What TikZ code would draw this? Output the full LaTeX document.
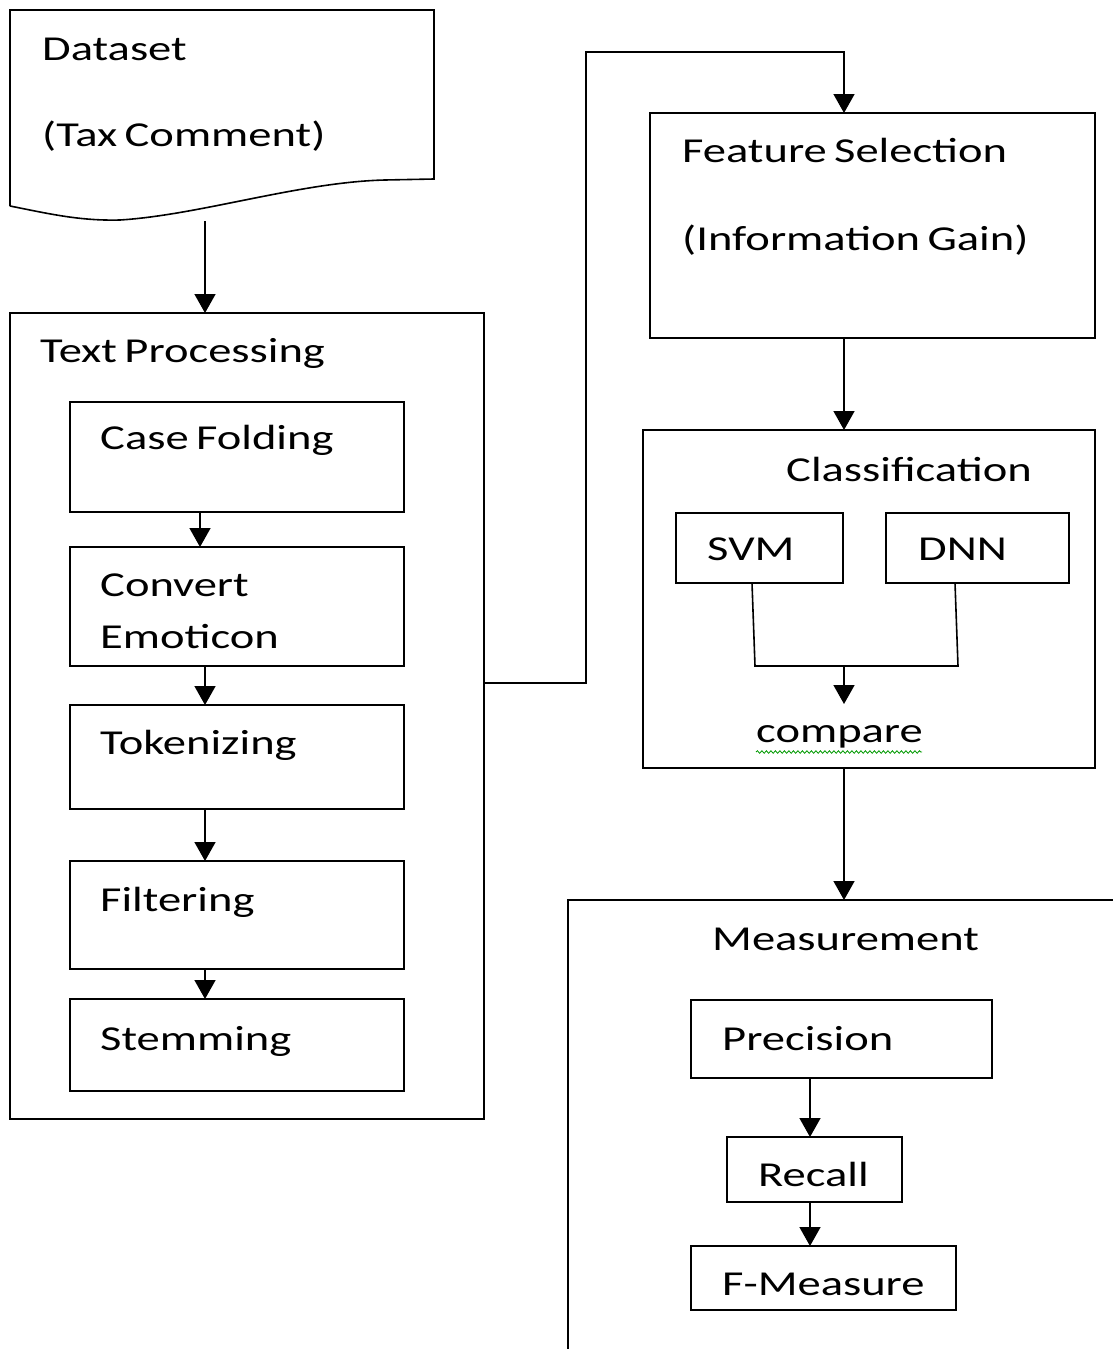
\documentclass[tikz,border=0pt]{standalone}
\usepackage{fontspec}
\setmainfont{Carlito}[FakeStretch=1.33,WordSpace=0.7]
\usetikzlibrary{arrows.meta,decorations.pathmorphing}
\tikzset{
  box/.style={draw, line width=1.6pt, inner sep=0pt, outer sep=0pt, anchor=north west},
  lbl/.style={anchor=base west, inner sep=0pt, font=\fontsize{35}{42}\selectfont},
  arr/.style={line width=1.6pt, -{Triangle[width=21pt,length=19pt]}},
  ln/.style={line width=1.6pt},
}
\begin{document}
\begin{tikzpicture}[x=1pt,y=-1pt]
\useasboundingbox (0,0) rectangle (1113,1349);
% Dataset document
\draw[ln] (10,206) -- (10,10) -- (434,10) -- (434,179) -- (385,180)
  .. controls (300,182) and (200,215) .. (120,220)
  .. controls (80,221) and (50,214) .. (10,206);
\coordinate (ds) at (205,221);
\node[lbl] (dsA) at (42,60) {Dataset};
\node[lbl] (dsB) at (42,146) {(Tax Comment)};
% Text Processing container
\node[box, minimum width=474pt, minimum height=806pt] (tp) at (10,313) {};
\node[lbl] (tpL) at (40,362) {Text Processing};
\draw[arr] (ds) -- ([xshift=195pt]tp.north west);
% inner steps
\node[box, minimum width=334pt, minimum height=110pt] (cf) at (70,402) {};
\node[lbl] at (100,449) {Case Folding};
\node[box, minimum width=334pt, minimum height=119pt] (ce) at (70,547) {};
\node[lbl] at (100,596) {Convert};
\node[lbl] at (100,648) {Emoticon};
\node[box, minimum width=334pt, minimum height=104pt] (tk) at (70,705) {};
\node[lbl] at (100,754) {Tokenizing};
\node[box, minimum width=334pt, minimum height=108pt] (fi) at (70,861) {};
\node[lbl] at (100,911) {Filtering};
\node[box, minimum width=334pt, minimum height=92pt] (st) at (70,999) {};
\node[lbl] at (100,1050) {Stemming};
\draw[arr] ([xshift=130pt]cf.south west) -- ([xshift=130pt]ce.north west);
\draw[arr] ([xshift=135pt]ce.south west) -- ([xshift=135pt]tk.north west);
\draw[arr] ([xshift=135pt]tk.south west) -- ([xshift=135pt]fi.north west);
\draw[arr] ([xshift=135pt]fi.south west) -- ([xshift=135pt]st.north west);
% Feature selection
\node[box, minimum width=445pt, minimum height=225pt] (fs) at (650,113) {};
\node[lbl] at (682,162) {Feature Selection};
\node[lbl] at (682,250) {(Information Gain)};
\draw[arr] ([yshift=33pt]tp.east) -- (586,683) -- (586,52) -- (844,52) -- ([xshift=194pt]fs.north west);
% Classification
\node[box, minimum width=452pt, minimum height=338pt] (cl) at (643,430) {};
\node[lbl] at (786,481) {Classification};
\draw[arr] ([xshift=194pt]fs.south west) -- ([xshift=201pt]cl.north west);
\node[box, minimum width=167pt, minimum height=70pt] (svm) at (676,513) {};
\node[lbl] at (707,560) {SVM};
\node[box, minimum width=183pt, minimum height=70pt] (dnn) at (886,513) {};
\node[lbl] at (918,560) {DNN};
\coordinate (mid) at (844,666);
\draw[ln] ([xshift=76pt]svm.south west) -- (755,666) -- (958,666) -- ([xshift=69pt]dnn.south west);
\node[lbl] (cmp) at (756,742) {compare};
\draw[arr] (mid) -- (844,704);
\draw[green!60!black, line width=0.8pt, decorate, decoration={snake, amplitude=1.3pt, segment length=4.5pt}] (756,752) -- (922,752);
% Measurement
\coordinate (meas) at (844,900);
\draw[ln] (568,1349) -- (568,900) -- (1113,900);
\draw[arr] ([xshift=201pt]cl.south west) -- (meas);
\node[lbl] at (712,950) {Measurement};
\node[box, minimum width=301pt, minimum height=78pt] (pr) at (691,1000) {};
\node[lbl] at (722,1050) {Precision};
\node[box, minimum width=175pt, minimum height=65pt] (rc) at (727,1137) {};
\node[lbl] at (758,1186) {Recall};
\node[box, minimum width=265pt, minimum height=64pt] (fm) at (691,1246) {};
\node[lbl] at (722,1295) {F-Measure};
\draw[arr] ([xshift=119pt]pr.south west) -- ([xshift=83pt]rc.north west);
\draw[arr] ([xshift=83pt]rc.south west) -- ([xshift=119pt]fm.north west);
\end{tikzpicture}
\end{document}
